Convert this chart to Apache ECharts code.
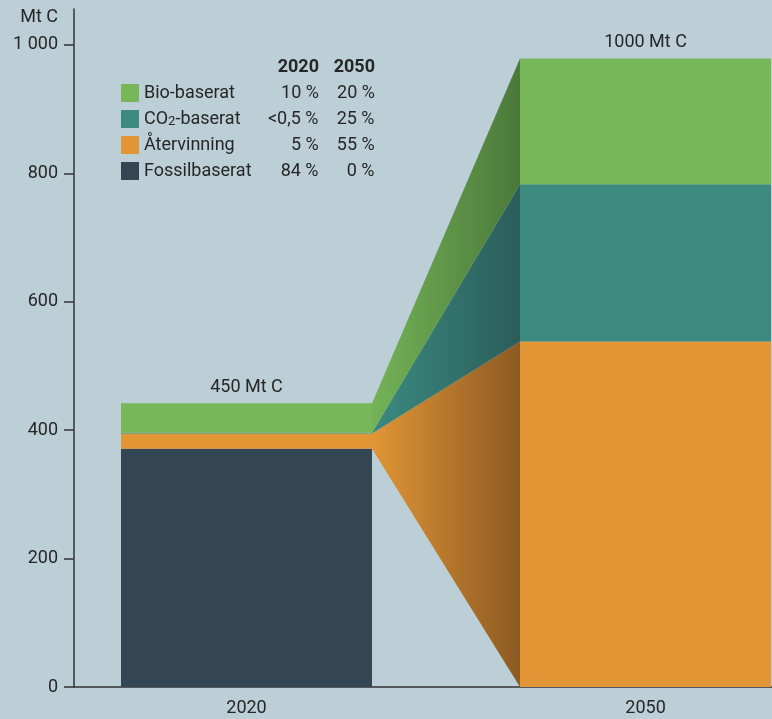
<!DOCTYPE html>
<html>
<head>
<meta charset="utf-8">
<script src="https://cdn.jsdelivr.net/npm/echarts@6/dist/echarts.min.js"></script>
<style>
html,body{margin:0;padding:0;background:#bccfd6;}
#c{width:772px;height:719px;}
</style>
</head>
<body>
<div id="c"></div>
<script>
// ---- data ----
const categories = ['2020', '2050'];
const fossil = [371, 0];
const recycling = [24, 538];
const co2 = [1, 245];
const bio = [46, 196];
const seriesNames = ['Fossilbaserat', 'Återvinning', 'CO₂-baserat', 'Bio-baserat'];
const legendOrder = ['Bio-baserat', 'CO₂-baserat', 'Återvinning', 'Fossilbaserat'];
const share2020 = { 'Bio-baserat': '10 %', 'CO₂-baserat': '<0,5 %', 'Återvinning': '5 %', 'Fossilbaserat': '84 %' };
const share2050 = { 'Bio-baserat': '20 %', 'CO₂-baserat': '25 %', 'Återvinning': '55 %', 'Fossilbaserat': '0 %' };
const totalLabels = ['450 Mt C', '1000 Mt C'];
const yTicks = [0, 200, 400, 600, 800, 1000];
const unitLabel = 'Mt C';

// ---- styling / layout ----
const FONT = 'Roboto';
const FS = 18;
const TXT = '#262626';
const HALF = 125.5;
const colors = {
  'Fossilbaserat': '#344654',
  'Återvinning': '#e19535',
  'CO₂-baserat': '#3d8b80',
  'Bio-baserat': '#77b75a'
};
const connGrad = {
  'Återvinning': ['#e19535', '#8c5a23'],
  'CO₂-baserat': ['#3b8a80', '#2b5d5a'],
  'Bio-baserat': ['#74b357', '#4b783a']
};

const valuesList = [fossil, recycling, co2, bio];
const bases = [];
let running = categories.map(() => 0);
valuesList.forEach(v => { bases.push(running.slice()); running = running.map((r, i) => r + v[i]); });
const totals = running;

function makeSeries(k) {
  const name = seriesNames[k];
  const values = valuesList[k];
  const base = bases[k];
  const color = colors[name];
  const grad = connGrad[name];
  return {
    type: 'custom',
    name: name,
    itemStyle: { color: color },
    data: categories.map((c, i) => [Number(c), base[i], base[i] + values[i]]),
    encode: { x: 0, y: [1, 2] },
    renderItem: function (params, api) {
      const i = params.dataIndex;
      const x = api.value(0);
      const p0 = api.coord([x, api.value(1)]);
      const p1 = api.coord([x, api.value(2)]);
      const children = [];
      if (grad && i > 0) {
        const px = Number(categories[i - 1]);
        const q0 = api.coord([px, base[i - 1]]);
        const q1 = api.coord([px, base[i - 1] + values[i - 1]]);
        children.push({
          type: 'polygon',
          shape: { points: [[q0[0] + HALF, q0[1]], [q1[0] + HALF, q1[1]], [p1[0] - HALF, p1[1]], [p0[0] - HALF, p0[1]]] },
          style: { fill: new echarts.graphic.LinearGradient(0, 0, 1, 0, [{ offset: 0, color: grad[0] }, { offset: 1, color: grad[1] }]) }
        });
      }
      children.push({
        type: 'rect',
        shape: { x: p0[0] - HALF, y: p1[1], width: 2 * HALF, height: p0[1] - p1[1] },
        style: { fill: color }
      });
      return { type: 'group', children: children };
    }
  };
}

const series = seriesNames.map((n, k) => makeSeries(k));
series.push({
  type: 'custom',
  name: 'totals',
  data: categories.map((c, i) => [Number(c), totals[i]]),
  encode: { x: 0, y: 1 },
  renderItem: function (params, api) {
    const p = api.coord([api.value(0), api.value(1)]);
    return {
      type: 'text',
      x: p[0], y: p[1] - 7,
      style: { text: totalLabels[params.dataIndex], fill: TXT, font: FS + 'px ' + FONT, align: 'center', verticalAlign: 'bottom' }
    };
  }
});

const fmt = v => String(v).replace(/\B(?=(\d{3})+(?!\d))/g, ' ');

// text measuring for legend columns
const mctx = document.createElement('canvas').getContext('2d');
function tw(t, size) { mctx.font = size + 'px ' + FONT; return mctx.measureText(t).width; }
const SUB = 13;
const COL1 = 175; // name + 2020 column width

function legendFormatter(n) {
  let parts, w;
  const idx = n.indexOf('₂');
  if (idx >= 0) {
    const pre = n.slice(0, idx), post = n.slice(idx + 1);
    parts = '{n|' + pre + '}{s|2}{n|' + post + '}';
    w = tw(pre, FS) + tw('2', SUB) + tw(post, FS);
  } else {
    parts = '{n|' + n + '}';
    w = tw(n, FS);
  }
  const aw = Math.round(COL1 - w);
  return parts + '{a' + aw + '|' + share2020[n] + '}{b|' + share2050[n] + '}';
}
const richStyles = {
  n: { fontSize: FS, color: TXT, fontFamily: FONT, lineHeight: 18 },
  s: { fontSize: SUB, color: TXT, fontFamily: FONT, lineHeight: 14, verticalAlign: 'bottom' },
  b: { width: 56, align: 'right', fontSize: FS, color: TXT, fontFamily: FONT, lineHeight: 18 }
};
legendOrder.forEach(n => {
  const f = legendFormatter(n);
  const m = f.match(/\{a(\d+)\|/);
  richStyles['a' + m[1]] = { width: Number(m[1]), align: 'right', fontSize: FS, color: TXT, fontFamily: FONT, lineHeight: 18 };
});

const chart = echarts.init(document.getElementById('c'), null, { renderer: 'canvas' });
chart.setOption({
  backgroundColor: '#bccfd6',
  animation: false,
  textStyle: { fontFamily: FONT },
  grid: { left: 74, right: 0, top: 9, bottom: 32 },
  xAxis: {
    type: 'value',
    min: 2007.03, max: 2059.51,
    axisLine: { show: true, lineStyle: { color: '#333', width: 1.5 } },
    axisTick: { show: false },
    splitLine: { show: false },
    axisLabel: {
      customValues: categories.map(Number),
      formatter: v => categories.includes(String(v)) ? String(v) : '',
      color: TXT, fontSize: FS, fontFamily: FONT, margin: 12
    }
  },
  yAxis: {
    type: 'value',
    min: 0, max: 1056,
    axisLine: { show: true, lineStyle: { color: '#333', width: 1.5 } },
    axisTick: { show: true, length: 10, customValues: yTicks, lineStyle: { color: '#333', width: 1.5 } },
    splitLine: { show: false },
    axisLabel: {
      customValues: yTicks,
      formatter: v => yTicks.includes(v) ? fmt(v) : '',
      color: TXT, fontSize: FS, fontFamily: FONT, margin: 16
    }
  },
  legend: {
    data: legendOrder,
    orient: 'vertical',
    left: 121, top: 84,
    padding: 0,
    itemWidth: 18, itemHeight: 18, itemGap: 8,
    icon: 'rect',
    selectedMode: false,
    formatter: legendFormatter,
    textStyle: { color: TXT, fontSize: FS, fontFamily: FONT, rich: richStyles }
  },
  graphic: [
    { type: 'text', x: 58, y: 17, style: { text: unitLabel, fill: TXT, font: FS + 'px ' + FONT, align: 'right', verticalAlign: 'middle' } },
    { type: 'text', x: 319, y: 67, style: { text: categories[0], fill: TXT, font: 'bold ' + FS + 'px ' + FONT, align: 'right', verticalAlign: 'middle' } },
    { type: 'text', x: 375, y: 67, style: { text: categories[1], fill: TXT, font: 'bold ' + FS + 'px ' + FONT, align: 'right', verticalAlign: 'middle' } }
  ],
  series: series
});
</script>
</body>
</html>
